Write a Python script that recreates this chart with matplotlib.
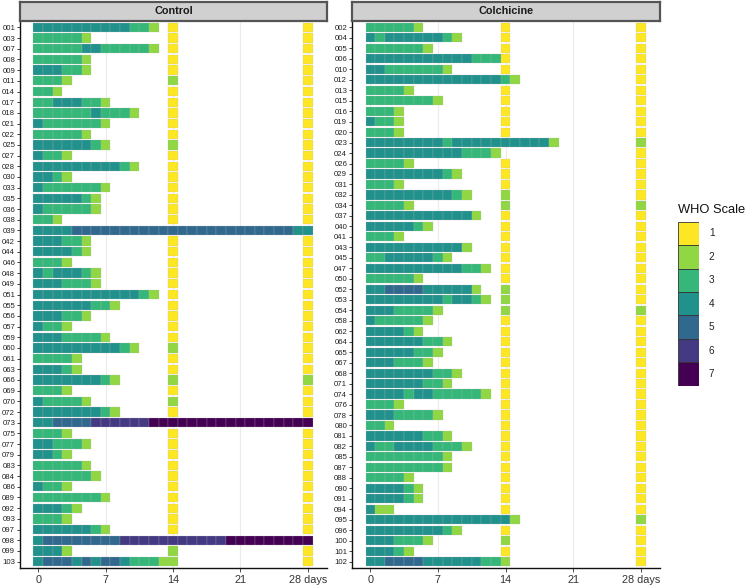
import numpy as np
import matplotlib.pyplot as plt
from matplotlib import colormaps

plt.rcParams['font.family'] = ['Liberation Sans', 'DejaVu Sans']

# WHO scale per day, one char per day starting at day 0
control_ids = ["001", "003", "007", "008", "009", "011", "014", "017", "018", "021",
               "022", "025", "027", "028", "030", "033", "035", "036", "038", "039",
               "042", "044", "046", "048", "049", "051", "055", "056", "057", "059",
               "060", "061", "063", "066", "069", "070", "072", "073", "075", "077",
               "079", "083", "084", "086", "089", "092", "093", "097", "098", "099", "103"]
control_days = ["4444444444332", "333332", "3333344333332", "333332", "444332", "3332", "332",
                "33444332", "33333343332", "43333332", "333332", "44444432", "4332",
                "44444444432", "4432", "43333332", "4444432", "4333332", "332",
                "44445555555555555555555555544", "444332", "444432", "3332", "4344432",
                "4443332", "4444444444432", "444444332", "444332", "4332", "44433332",
                "44444444432", "33332", "44432", "444444432", "3332", "433332", "444444432",
                "44555566666677777777777777777", "3332", "443332", "4432", "333332", "3333332",
                "4332", "33333332", "44432", "3332", "44444432",
                "45555555566666666666777777777", "4442", "455545455433322"]
# value shown at day 14 and day 28 (0 = none)
control_d14 = [1, 1, 1, 1, 1, 2, 1, 1, 1, 1, 1, 2, 1, 1, 1, 1, 1, 1, 1, 0,
               1, 1, 1, 1, 1, 1, 1, 1, 1, 1, 2, 1, 1, 2, 1, 2, 1, 0, 1, 1,
               1, 1, 1, 1, 1, 1, 1, 1, 0, 2, 0]
control_d28 = [1, 1, 1, 1, 1, 1, 1, 1, 1, 1, 1, 1, 1, 1, 1, 1, 1, 1, 1, 0,
               1, 1, 1, 1, 1, 1, 1, 1, 1, 1, 1, 1, 1, 2, 1, 1, 1, 0, 1, 1,
               1, 1, 1, 1, 1, 1, 1, 1, 0, 1, 1]

colch_ids = ["002", "004", "005", "006", "010", "012", "013", "015", "016", "019",
             "020", "023", "024", "026", "029", "031", "032", "034", "037", "040",
             "041", "043", "045", "047", "050", "052", "053", "054", "058", "062",
             "064", "065", "067", "068", "071", "074", "076", "078", "080", "081",
             "082", "085", "087", "088", "090", "091", "094", "095", "096", "100",
             "101", "102"]
colch_days = ["333332", "4344444432", "3333332", "44444444444333", "443333332",
              "4444444444444432", "33332", "33333332", "3332", "4332", "3332",
              "44444444344444444442", "44444444443332", "33332", "4444444432", "3332",
              "44444444432", "33332", "444444444442", "4444432", "3332", "44444444442",
              "334444432", "4444444444332", "333332", "445555444442", "4444444434432",
              "44433332", "4333332", "444432", "444444332", "44444332", "4443332",
              "4444444332", "444444332", "4444344333332", "3332", "44433332", "332",
              "444444332", "43344443332", "333333332", "333333332", "33332", "444432",
              "444432", "422", "4444444444444442", "4444444432", "4443332", "44432",
              "445555444444332"]
colch_d14 = [1, 1, 1, 1, 1, 0, 1, 1, 1, 1, 1, 0, 0, 1, 1, 1, 2, 2, 1, 1,
             1, 1, 1, 1, 1, 2, 2, 2, 1, 1, 1, 1, 1, 1, 1, 1, 1, 1, 1, 1,
             1, 1, 1, 1, 1, 1, 1, 0, 1, 2, 1, 0]
colch_d28 = [1, 1, 1, 1, 1, 1, 1, 1, 1, 1, 1, 2, 1, 1, 1, 1, 1, 2, 1, 1,
             1, 1, 1, 1, 1, 1, 1, 2, 1, 1, 1, 1, 1, 1, 1, 1, 1, 1, 1, 1,
             1, 1, 1, 1, 1, 1, 1, 2, 1, 1, 1, 1]

levels = [1, 2, 3, 4, 5, 6, 7]
xticks = [0, 7, 14, 21, 28]
xticklabels = ["0", "7", "14", "21", "28 days"]

cmap = colormaps['viridis']
pal = {k: cmap((7 - k) / 6) for k in levels}

W, H = 753, 585
fig = plt.figure(figsize=(W / 100, H / 100), dpi=100)


def px_axes(x0, y0, x1, y1):
    return fig.add_axes([x0 / W, 1 - y1 / H, (x1 - x0) / W, (y1 - y0) / H])


def draw_panel(x0, x1, title, ids, seqs, d14, d28):
    ax = px_axes(x0, 21, x1, 568)
    rows, days, vals = [], [], []
    for r, s in enumerate(seqs):
        for d, ch in enumerate(s):
            rows.append(r)
            days.append(d)
            vals.append(int(ch))
        if d14[r]:
            rows.append(r); days.append(14); vals.append(d14[r])
        if d28[r]:
            rows.append(r); days.append(28); vals.append(d28[r])
    ax.barh(rows, 1, left=np.array(days) - 0.5, height=0.87,
            color=[pal[v] for v in vals], edgecolor=(0.72, 0.72, 0.72, 0.55),
            linewidth=0.3, zorder=2)
    n = len(ids)
    ax.set_ylim(n - 1 + 0.6, -0.6)
    ax.set_yticks(range(n))
    ax.set_yticklabels(ids)
    ax.set_xlim(-1.9, 30.0)
    ax.set_xticks(xticks)
    ax.set_xticklabels(xticklabels)
    ax.tick_params(axis='y', labelsize=5.6, length=2, width=0.6, pad=1.5, colors='#222222')
    ax.tick_params(axis='x', labelsize=7.8, length=3, width=0.6, pad=2, colors='#333333')
    ax.grid(axis='x', color='#ebebeb', linewidth=0.8, zorder=0)
    ax.set_axisbelow(True)
    for s in ['top', 'right']:
        ax.spines[s].set_visible(False)
    for s in ['left', 'bottom']:
        ax.spines[s].set_linewidth(1.0)
        ax.spines[s].set_color('#111111')

    strip = px_axes(x0, 2, x1, 20.5)
    strip.set_facecolor('#d0d0d0')
    strip.set_xticks([])
    strip.set_yticks([])
    for s in strip.spines.values():
        s.set_color('#555555')
        s.set_linewidth(1.6)
    strip.text(0.5, 0.5, title, ha='center', va='center', fontsize=7.8,
               fontweight='bold', color='#1a1a1a', transform=strip.transAxes)
    return ax


draw_panel(20, 327, "Control", control_ids, control_days, control_d14, control_d28)
draw_panel(352, 660, "Colchicine", colch_ids, colch_days, colch_d14, colch_d28)

# legend
leg = px_axes(678, 221.7, 699.3, 385.7)
leg.barh(levels, 1, height=1, color=[pal[k] for k in levels],
         edgecolor='#333333', linewidth=0.6)
leg.set_ylim(7.5, 0.5)
leg.set_xlim(0, 1)
leg.axis('off')
for k in levels:
    leg.text(1.45, k, str(k), ha='left', va='center', fontsize=7.2, color='#222222')
fig.text(678 / W, 1 - 210 / H, "WHO Scale", ha='left', va='center', fontsize=9.3, color='#111111')

fig.savefig("out.png", dpi=100)
